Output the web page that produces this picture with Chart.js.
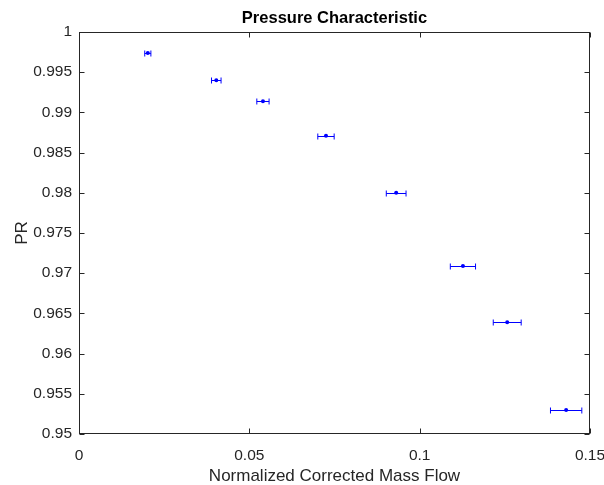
<!DOCTYPE html>
<html>
<head>
<meta charset="utf-8">
<script src="https://cdn.jsdelivr.net/npm/chart.js@4.4.1/dist/chart.umd.min.js"></script>
<style>
  html, body { margin: 0; padding: 0; background: #fff; }
</style>
</head>
<body>
<canvas id="pr-chart" width="604" height="485"></canvas>
<script>
// measured points: corrected mass flow (x), pressure ratio (y), x error half-width
const massFlow = [0.0202, 0.0403, 0.0540, 0.0725, 0.0931, 0.1127, 0.1257, 0.1430];
const pressureRatio = [0.9974, 0.9940, 0.9914, 0.9871, 0.9800, 0.9709, 0.9639, 0.9530];
const massFlowErr = [0.0009, 0.0014, 0.0018, 0.0024, 0.0029, 0.0037, 0.0041, 0.0046];

const xTicks = [0, 0.05, 0.1, 0.15];
const yTicks = [0.95, 0.955, 0.96, 0.965, 0.97, 0.975, 0.98, 0.985, 0.99, 0.995, 1];

const axisColor = '#262626';
const fontFamily = '"Liberation Sans", Arial, Helvetica, sans-serif';

Chart.defaults.font.family = fontFamily;
Chart.defaults.color = axisColor;

// horizontal error bars, box round the axes, inward ticks, title
const matlabLook = {
    id: 'matlabLook',
    beforeDatasetsDraw(chart) {
        const ctx = chart.ctx;
        const xs = chart.scales.x;
        const ys = chart.scales.y;
        ctx.save();
        ctx.strokeStyle = '#0000ff';
        ctx.lineWidth = 1;
        massFlow.forEach((m, i) => {
            const x0 = xs.getPixelForValue(m - massFlowErr[i]);
            const x1 = xs.getPixelForValue(m + massFlowErr[i]);
            const y = Math.round(ys.getPixelForValue(pressureRatio[i])) + 0.5;
            ctx.beginPath();
            ctx.moveTo(x0, y);
            ctx.lineTo(x1, y);
            ctx.moveTo(x0, y - 3);
            ctx.lineTo(x0, y + 3);
            ctx.moveTo(x1, y - 3);
            ctx.lineTo(x1, y + 3);
            ctx.stroke();
        });
        ctx.restore();
    },
    afterDraw(chart) {
        const ctx = chart.ctx;
        const a = chart.chartArea;
        const xs = chart.scales.x;
        const ys = chart.scales.y;
        const L = Math.round(a.left) + 0.5, R = Math.round(a.right) - 0.5;
        const T = Math.round(a.top) + 0.5, B = Math.round(a.bottom) - 0.5;
        const tick = 5;
        ctx.save();
        ctx.strokeStyle = axisColor;
        ctx.lineWidth = 1;
        ctx.strokeRect(L, T, R - L, B - T);
        ctx.beginPath();
        xTicks.forEach(v => {
            const x = Math.round(xs.getPixelForValue(v)) + 0.5;
            ctx.moveTo(x, B); ctx.lineTo(x, B - tick);
            ctx.moveTo(x, T); ctx.lineTo(x, T + tick);
        });
        yTicks.forEach(v => {
            const y = Math.round(ys.getPixelForValue(v)) + 0.5;
            ctx.moveTo(L, y); ctx.lineTo(L + tick, y);
            ctx.moveTo(R, y); ctx.lineTo(R - tick, y);
        });
        ctx.stroke();

        ctx.fillStyle = '#000';
        ctx.font = 'bold 16.5px ' + fontFamily;
        ctx.textAlign = 'center';
        ctx.textBaseline = 'middle';
        ctx.fillText('Pressure Characteristic', (a.left + a.right) / 2, 18);
        ctx.restore();
    }
};

function setupChart() {
    const ctx = document.getElementById('pr-chart').getContext('2d');
    const points = massFlow.map((m, i) => ({ x: m, y: pressureRatio[i] }));
    const config = {
        type: 'scatter',
        data: {
            datasets: [{
                data: points,
                pointRadius: 2,
                pointHoverRadius: 2,
                pointBackgroundColor: '#0000ff',
                pointBorderWidth: 0
            }]
        },
        options: {
            responsive: false,
            animation: false,
            layout: { padding: { top: 32, right: 14, left: 0, bottom: 0 } },
            plugins: {
                legend: { display: false },
                tooltip: { enabled: false },
                title: { display: false }
            },
            scales: {
                x: {
                    type: 'linear',
                    min: 0,
                    max: 0.15,
                    afterBuildTicks: s => { s.ticks = xTicks.map(v => ({ value: v })); },
                    afterFit: s => {
                        s.height = 51;
                        s.paddingLeft = 0;
                        s.paddingRight = 0;
                    },
                    grid: { display: false, drawTicks: false },
                    border: { display: false },
                    ticks: {
                        padding: 12,
                        font: { size: 15.5 },
                        color: axisColor,
                        maxRotation: 0,
                        callback: v => String(+v.toFixed(3))
                    },
                    title: {
                        display: true,
                        text: 'Normalized Corrected Mass Flow',
                        font: { size: 17, lineHeight: 1 },
                        color: axisColor,
                        padding: { top: 0, bottom: 0.5 }
                    }
                },
                y: {
                    type: 'linear',
                    min: 0.95,
                    max: 1,
                    afterBuildTicks: s => { s.ticks = yTicks.map(v => ({ value: v })); },
                    afterFit: s => {
                        s.width = 79;
                        s.paddingTop = 0;
                        s.paddingBottom = 0;
                    },
                    grid: { display: false, drawTicks: false },
                    border: { display: false },
                    ticks: {
                        padding: 7,
                        font: { size: 15.5 },
                        color: axisColor,
                        callback: v => String(+v.toFixed(3))
                    },
                    title: {
                        display: true,
                        text: 'PR',
                        font: { size: 17, lineHeight: 1 },
                        color: axisColor,
                        padding: { top: 14, bottom: 0 }
                    }
                }
            }
        },
        plugins: [matlabLook]
    };
    return new Chart(ctx, config);
}

const prChart = setupChart();
</script>
</body>
</html>
